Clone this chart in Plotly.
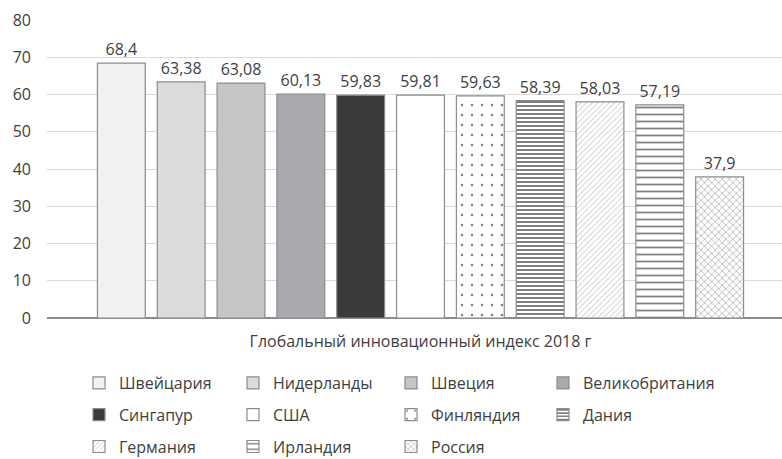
import plotly.graph_objects as go

# Global Innovation Index 2018, top countries plus Russia
category = "Глобальный инновационный индекс 2018 г"
countries = ["Швейцария", "Нидерланды", "Швеция", "Великобритания", "Сингапур",
             "США", "Финляндия", "Дания", "Германия", "Ирландия", "Россия"]
scores = [68.4, 63.38, 63.08, 60.13, 59.83, 59.81, 59.63, 58.39, 58.03, 57.19, 37.9]

# fill colour, pattern shape, pattern colour, pattern size, solidity
styles = [
    ("#f0f1f3", "", None, None, None),
    ("#dadbdd", "", None, None, None),
    ("#c5c6c8", "", None, None, None),
    ("#a9aaad", "", None, None, None),
    ("#3b3a39", "", None, None, None),
    ("#ffffff", "", None, None, None),
    ("#ffffff", ".", "#000000", 10, 0.05),
    ("#ffffff", "-", "#000000", 4, 0.5),
    ("#ffffff", "/", "#7a7a7a", 4, 0.22),
    ("#ffffff", "-", "#000000", 7, 0.25),
    ("#ffffff", "x", "#222222", 5, 0.2),
]
# legend columns, filled row by row
legend_cols = ["legend", "legend2", "legend3", "legend4"]

FONT = "Open Sans"
FS = 16
TXT = "#404040"

fig = go.Figure()
for i, (name, val, (fill, shape, fg, size, sol)) in enumerate(zip(countries, scores, styles)):
    pattern = dict(shape=shape)
    if shape:
        pattern.update(fgcolor=fg, bgcolor=fill, size=size, solidity=sol, fillmode="overlay")
    fig.add_trace(go.Bar(
        name=name,
        x=[category],
        y=[val],
        marker=dict(color=fill, line=dict(color="#8c8c8c", width=1.2), pattern=pattern),
        texttemplate="%{y:.2~f}",
        textposition="outside",
        textfont=dict(family=FONT, size=FS, color=TXT),
        cliponaxis=False,
        legend=legend_cols[i % 4],
        legendgroup=name,
    ))

plot_left, plot_right = 47, 782
plot_top, plot_bottom = 20, 318
plot_w = plot_right - plot_left
plot_h = plot_bottom - plot_top
cat_px = 747  # pixel width of the single category slot

legend_common = dict(
    orientation="v",
    itemwidth=30,
    tracegroupgap=8,
    font=dict(family=FONT, size=FS, color=TXT),
    bgcolor="rgba(0,0,0,0)",
    xanchor="left", yanchor="top",
    traceorder="grouped",
    itemclick=False, itemdoubleclick=False,
)


def col_x(px):
    return (px - plot_left) / plot_w


def row_y(px):
    return (plot_bottom - px) / plot_h


legend_top = 366
col_px = [79, 233, 391, 543]

fig.update_layout(
    width=782, height=459,
    margin=dict(l=plot_left, r=782 - plot_right, t=plot_top, b=459 - plot_bottom,
                autoexpand=False),
    paper_bgcolor="white", plot_bgcolor="white",
    separators=", ",
    barmode="group",
    bargap=0.119,
    bargroupgap=0.2,
    font=dict(family=FONT, size=FS, color=TXT),
    xaxis=dict(
        type="category",
        range=[-0.5, -0.5 + plot_w / cat_px],
        showgrid=False, showline=False, ticks="",
        ticklabelstandoff=12,
        tickfont=dict(family=FONT, size=FS, color=TXT),
    ),
    yaxis=dict(
        range=[0, 80], dtick=10,
        showgrid=True, gridcolor="#d9d9d9", gridwidth=1,
        zeroline=True, zerolinecolor="#8c8c8c", zerolinewidth=1.5,
        showline=False, ticks="",
        ticklabelstandoff=15,
        tickfont=dict(family=FONT, size=FS, color=TXT),
    ),
    showlegend=True,
)
for key, px in zip(legend_cols, col_px):
    fig.update_layout({key: dict(x=col_x(px), y=row_y(legend_top), **legend_common)})

fig.write_html("out.html")
